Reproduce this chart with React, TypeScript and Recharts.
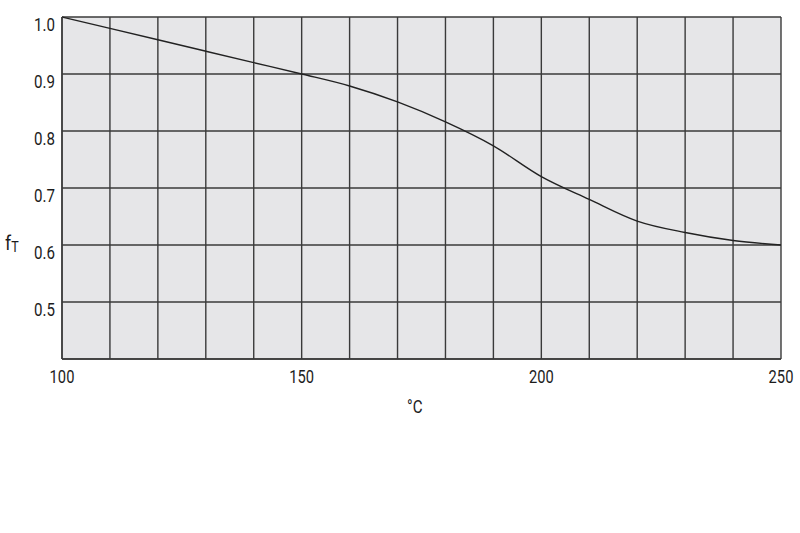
import React from 'react';
import { LineChart, Line, XAxis, YAxis, CartesianGrid, Label } from 'recharts';

const temperatures = [100, 110, 120, 130, 140, 150, 160, 170, 180, 190, 200, 210, 220, 230, 240, 250];
const factorValues = [1.0, 0.98, 0.96, 0.94, 0.92, 0.9, 0.879, 0.851, 0.816, 0.774, 0.72, 0.68, 0.642, 0.622, 0.608, 0.6];
const xTicks = [100, 110, 120, 130, 140, 150, 160, 170, 180, 190, 200, 210, 220, 230, 240, 250];
const xLabeled = [100, 150, 200, 250];
const yTicks = [0.4, 0.5, 0.6, 0.7, 0.8, 0.9, 1.0];
const yLabeled = [0.5, 0.6, 0.7, 0.8, 0.9, 1.0];

const data = temperatures.map((t, i) => ({ t, f: factorValues[i] }));

const FONT = 'Roboto, "Liberation Sans", sans-serif';
const SX = 0.84;
const TXT = '#1c1c1c';

const XTick = (props: any) => {
  const { x, y, payload } = props;
  const v = payload.value;
  if (!xLabeled.includes(v)) return null;
  return (
    <text
      transform={`translate(${x}, ${y + 24}) scale(${SX}, 1)`}
      textAnchor="middle"
      fill={TXT}
      fontSize={17.5}
      fontFamily={FONT}
    >
      {String(v)}
    </text>
  );
};

const YTick = (props: any) => {
  const { x, y, payload } = props;
  const v = payload.value;
  if (!yLabeled.some((l) => Math.abs(l - v) < 1e-6)) return null;
  return (
    <text
      transform={`translate(${x - 7}, ${y + 14}) scale(${SX}, 1)`}
      textAnchor="end"
      fill={TXT}
      fontSize={18}
      fontFamily={FONT}
    >
      {v.toFixed(1)}
    </text>
  );
};

export default function App() {
  return (
    <div style={{ position: 'absolute', left: 0, top: 0, width: 800, height: 533, background: '#fff' }}>
      <LineChart width={800} height={533} data={data} margin={{ top: 17, right: 19, left: 0, bottom: 0 }}>
        <CartesianGrid fill="#e6e6e8" stroke="#3a3a3a" strokeWidth={1.4} strokeOpacity={1} />
        <XAxis
          dataKey="t"
          type="number"
          domain={[100, 250]}
          ticks={xTicks}
          interval={0}
          height={174}
          tickLine={false}
          tickSize={0}
          tickMargin={0}
          axisLine={{ stroke: '#3a3a3a', strokeWidth: 1.4 }}
          tick={<XTick />}
        >
          <Label
            content={() => (
              <text transform={`translate(407, 413) scale(${SX}, 1)`} fill={TXT} fontSize={18} fontFamily={FONT}>
                °C
              </text>
            )}
          />
        </XAxis>
        <YAxis
          type="number"
          domain={[0.4, 1.0]}
          ticks={yTicks}
          interval={0}
          width={62}
          tickLine={false}
          tickSize={0}
          tickMargin={0}
          axisLine={{ stroke: '#3a3a3a', strokeWidth: 1.4 }}
          tick={<YTick />}
        >
          <Label
            content={() => (
              <text transform={`translate(5, 250) scale(${SX}, 1)`} fill={TXT} fontSize={21} fontFamily={FONT}>
                f
                <tspan fontSize={15} dy={2}>T</tspan>
              </text>
            )}
          />
        </YAxis>
        <Line
          type="monotone"
          dataKey="f"
          stroke="#222"
          strokeWidth={1.4}
          dot={false}
          activeDot={false}
          isAnimationActive={false}
        />
      </LineChart>
    </div>
  );
}
